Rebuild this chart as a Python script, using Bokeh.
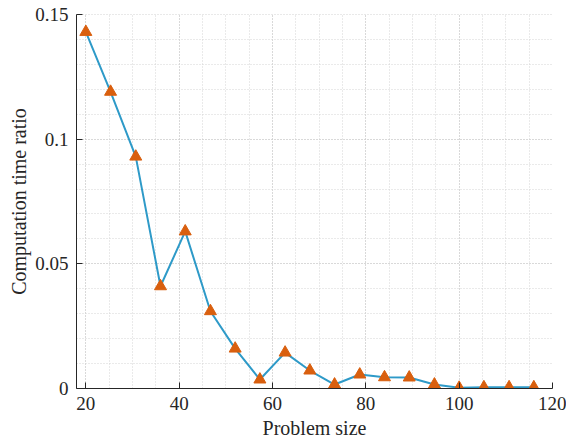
from bokeh.plotting import figure
from bokeh.models import SingleIntervalTicker, CustomJSTickFormatter, Range1d
from bokeh.embed import file_html
from bokeh.resources import INLINE

# Problem sizes and the measured computation time ratio
problem_size = [20.0, 25.3, 30.7, 36.0, 41.3, 46.7, 52.0, 57.3, 62.7, 68.0,
                73.3, 78.7, 84.0, 89.3, 94.7, 100.0, 105.3, 110.7, 116.0]
time_ratio = [0.143, 0.119, 0.093, 0.041, 0.063, 0.031, 0.016, 0.0036, 0.0144, 0.0072,
              0.0016, 0.0056, 0.0045, 0.0044, 0.0016, 0.0003, 0.0005, 0.0005, 0.0005]

x_ticks_major = 20
y_ticks_major = 0.05

FONT = "'Liberation Serif', serif"
AX = "#262626"

p = figure(width=566, height=442, output_backend="svg", toolbar_location=None,
           x_range=Range1d(18, 120), y_range=Range1d(0, 0.1500001),
           min_border_left=76, min_border_right=14, min_border_top=14, min_border_bottom=54)
p.outline_line_color = None
p.background_fill_color = "white"
p.border_fill_color = "white"

p.xaxis.ticker = SingleIntervalTicker(interval=x_ticks_major, num_minor_ticks=4)
p.yaxis.ticker = SingleIntervalTicker(interval=y_ticks_major, num_minor_ticks=5)
p.yaxis.formatter = CustomJSTickFormatter(code="return tick.toFixed(2).replace(/\\.?0+$/, '');")

for ax in (p.xaxis, p.yaxis):
    ax.axis_line_color = AX
    ax.axis_line_width = 1
    ax.major_tick_line_color = AX
    ax.major_tick_in = 6
    ax.major_tick_out = 0
    ax.minor_tick_in = 0
    ax.minor_tick_out = 0
    ax.major_label_text_font = FONT
    ax.major_label_text_font_size = "19px"
    ax.major_label_text_color = AX
    ax.axis_label_text_font = FONT
    ax.axis_label_text_font_size = "20px"
    ax.axis_label_text_font_style = "normal"
    ax.axis_label_text_color = AX
    ax.major_label_standoff = 8

p.xaxis.axis_label = "Problem size"
p.yaxis.axis_label = "Computation time ratio"
p.xaxis.axis_label_standoff = 4
p.yaxis.axis_label_standoff = 2

for g in (p.xgrid, p.ygrid):
    g.grid_line_color = "#c8c8c8"
    g.grid_line_dash = "1 2"
    g.grid_line_width = 1
    g.minor_grid_line_color = "#d4d4d4"
    g.minor_grid_line_dash = "1 2"
    g.minor_grid_line_width = 1

p.line(problem_size, time_ratio, line_color="#2e9ac8", line_width=2)
p.scatter(problem_size, time_ratio, marker="triangle", size=12,
          fill_color="#d95f0e", line_color="#d95f0e")

open("out.html", "w").write(file_html(p, INLINE))
